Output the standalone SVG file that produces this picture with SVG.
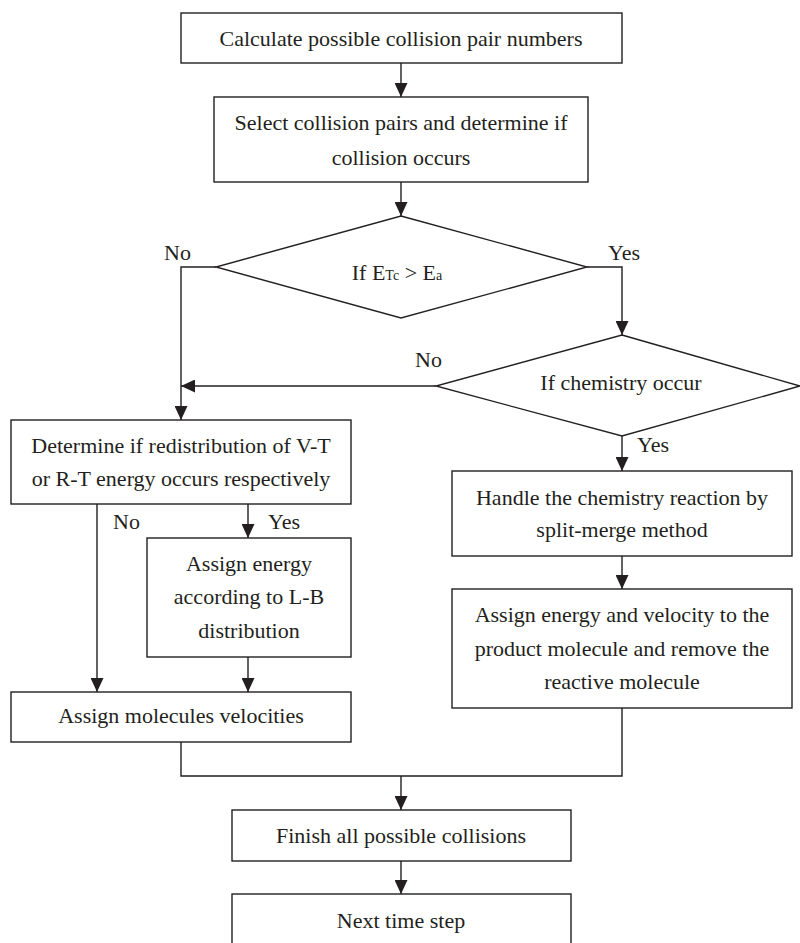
<svg xmlns="http://www.w3.org/2000/svg" width="800" height="943" viewBox="0 0 800 943">
<defs>
<marker id="arr" markerUnits="userSpaceOnUse" markerWidth="14" markerHeight="13" refX="14" refY="6.5" orient="auto">
<path d="M0,0 L14,6.5 L0,13 z" fill="#231f20"/>
</marker>
<style>
.box{fill:#fff;stroke:#231f20;stroke-width:1.4}
.t{font-family:"Liberation Serif","Times New Roman",serif;font-size:22px;fill:#231f20;text-anchor:middle}
.l{font-family:"Liberation Serif","Times New Roman",serif;font-size:22px;fill:#231f20}
.c{fill:none;stroke:#231f20;stroke-width:1.4}
.a{fill:none;stroke:#231f20;stroke-width:1.4;marker-end:url(#arr)}
</style>
</defs>
<rect width="800" height="943" fill="#fff"/>
<g id="connectors">
<path class="a" d="M401,63 V97"/>
<path class="a" d="M401,182 V216"/>
<path class="a" d="M216,267 H181 V420"/>
<path class="a" d="M587,267 H622 V335"/>
<path class="a" d="M436,386 H181"/>
<path class="a" d="M622,436 V471"/>
<path class="a" d="M97,504 V692"/>
<path class="a" d="M248,504 V538"/>
<path class="a" d="M248,657 V692"/>
<path class="a" d="M622,556 V589"/>
<path class="c" d="M181,742 V776 H622 V708"/>
<path class="a" d="M401,776 V810"/>
<path class="a" d="M401,861 V894"/>
<text class="l" x="164" y="260">No</text>
<text class="l" x="608" y="260">Yes</text>
<text class="l" x="415" y="367">No</text>
<text class="l" x="637" y="452">Yes</text>
<text class="l" x="113" y="529">No</text>
<text class="l" x="268" y="529">Yes</text>
</g>
<g id="n1">
<rect class="box" x="181" y="13" width="441" height="50"/>
<text class="t" x="401" y="46">Calculate possible collision pair numbers</text>
</g>
<g id="n2">
<rect class="box" x="214" y="97" width="374" height="85"/>
<text class="t" x="401" y="130">Select collision pairs and determine if</text>
<text class="t" x="401" y="165">collision occurs</text>
</g>
<g id="d1">
<polygon class="box" points="401,216 587,267 401,318 216,267"/>
<text class="t" x="397" y="280">If E<tspan font-size="14">Tc</tspan> &gt; E<tspan font-size="14">a</tspan></text>
</g>
<g id="d2">
<polygon class="box" points="622,335 800,386 622,436 436,386"/>
<text class="t" x="621" y="390">If chemistry occur</text>
</g>
<g id="n3">
<rect class="box" x="11" y="420" width="340" height="84"/>
<text class="t" x="181" y="453">Determine if redistribution of V-T</text>
<text class="t" x="181" y="486">or R-T energy occurs respectively</text>
</g>
<g id="n4">
<rect class="box" x="147" y="538" width="204" height="119"/>
<text class="t" x="249" y="571">Assign energy</text>
<text class="t" x="249" y="604">according to L-B</text>
<text class="t" x="249" y="638">distribution</text>
</g>
<g id="n5">
<rect class="box" x="11" y="692" width="340" height="50"/>
<text class="t" x="181" y="723">Assign molecules velocities</text>
</g>
<g id="n6">
<rect class="box" x="452" y="471" width="340" height="85"/>
<text class="t" x="622" y="505">Handle the chemistry reaction by</text>
<text class="t" x="622" y="537">split-merge method</text>
</g>
<g id="n7">
<rect class="box" x="452" y="589" width="340" height="119"/>
<text class="t" x="622" y="622">Assign energy and velocity to the</text>
<text class="t" x="622" y="656">product molecule and remove the</text>
<text class="t" x="622" y="689">reactive molecule</text>
</g>
<g id="n8">
<rect class="box" x="232" y="810" width="339" height="51"/>
<text class="t" x="401" y="843">Finish all possible collisions</text>
</g>
<g id="n9">
<rect class="box" x="232" y="894" width="339" height="70"/>
<text class="t" x="401" y="928">Next time step</text>
</g>
</svg>
